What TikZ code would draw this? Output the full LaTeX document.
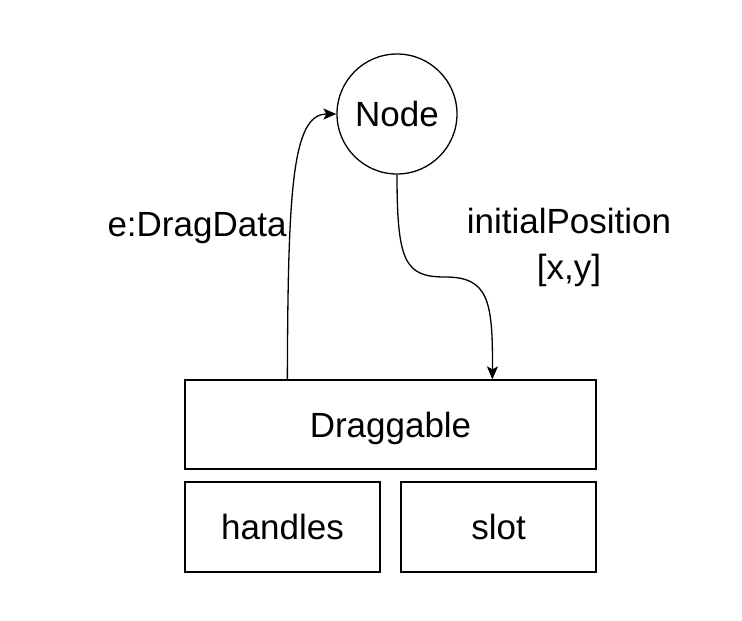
\documentclass[tikz,border=0pt]{standalone}
\usepackage{fontspec}
\setmainfont{Liberation Sans}
\usetikzlibrary{arrows.meta,calc}
\begin{document}
\begin{tikzpicture}[x=1pt,y=-1pt,
  box/.style={draw,line width=1.3pt,inner sep=0pt},
  lbl/.style={font=\fontsize{35}{46}\selectfont,align=center,inner sep=0pt},
  conn/.style={line width=1.3pt,-{Stealth[length=13pt,width=11pt,inset=3pt]}}]
\useasboundingbox (0,0) rectangle (742,621);
\node[box,circle,minimum size=120pt,lbl] (node) at (397,114) {Node};
\node[box,minimum width=411pt,minimum height=89pt,lbl] (drag) at (390.5,424.5) {\raisebox{-4pt}[\height][\depth]{Draggable}};
\node[box,minimum width=195pt,minimum height=90pt,lbl] (handles) at (282.5,527) {handles};
\node[box,minimum width=195pt,minimum height=90pt,lbl] (slot) at (498.5,527) {slot};
\node[lbl] (l1) at (197,228) {e:DragData};
\node[lbl] (l2) at (569,247) {initialPosition\\{[x,y]}};
\coordinate (a1) at ($(drag.north west)+(103,0)$);
\coordinate (a2) at ($(drag.north west)+(308,0)$);
\coordinate (mid) at (445,277);
\draw[conn] (a1) .. controls (288,190) and (292,114) .. (node.west);
\draw[conn] (node.south) .. controls (397,262) and (405,277) .. (mid) .. controls (488,277) and (493,300) .. (a2);
\end{tikzpicture}
\end{document}
